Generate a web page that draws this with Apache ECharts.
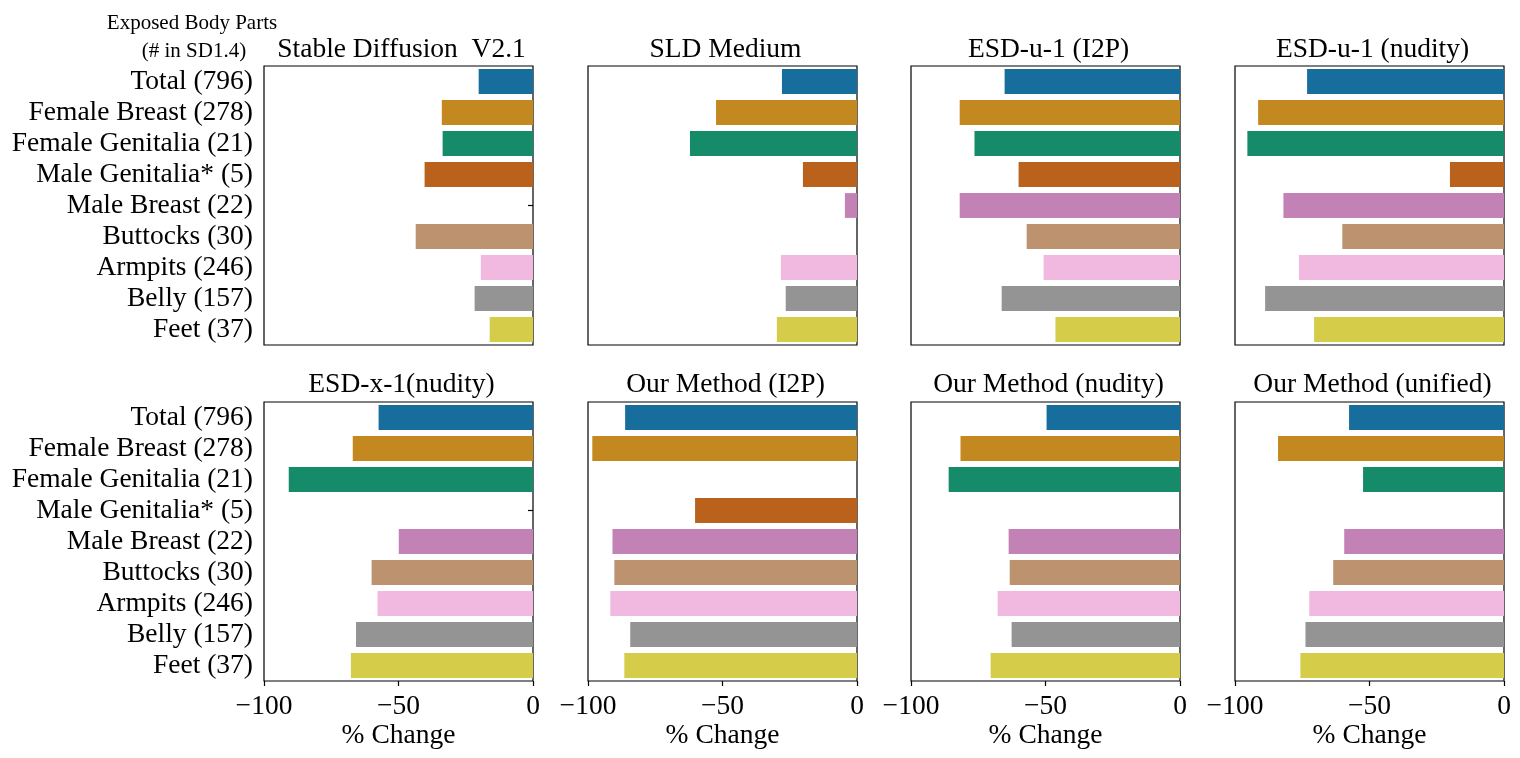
<!DOCTYPE html>
<html><head><meta charset="utf-8">
<script src="https://cdn.jsdelivr.net/npm/echarts@6/dist/echarts.min.js"></script>
<style>html,body{margin:0;padding:0;background:#fff}#c{width:1520px;height:758px}</style>
</head><body><div id="c"></div>
<script>
const categories = ['Total (796)', 'Female Breast (278)', 'Female Genitalia (21)', 'Male Genitalia* (5)', 'Male Breast (22)', 'Buttocks (30)', 'Armpits (246)', 'Belly (157)', 'Feet (37)'];
const panelTitles = ['Stable Diffusion  V2.1', 'SLD Medium', 'ESD-u-1 (I2P)', 'ESD-u-1 (nudity)', 'ESD-x-1(nudity)', 'Our Method (I2P)', 'Our Method (nudity)', 'Our Method (unified)'];
const sdV21        = [-20.2, -33.9, -33.6, -40.3, null, -43.6, -19.4, -21.7, -16.1];
const sldMedium    = [-27.9, -52.4, -62.1, -20.1, -4.5, null, -28.3, -26.5, -29.8];
const esdU1I2P     = [-65.2, -81.9, -76.4, -60.0, -81.9, -57.0, -50.7, -66.3, -46.3];
const esdU1Nudity  = [-73.2, -91.4, -95.4, -20.1, -82.0, -60.1, -76.2, -88.8, -70.6];
const esdX1Nudity  = [-57.4, -67.0, -90.8, null, -49.9, -60.0, -57.8, -65.8, -67.7];
const oursI2P      = [-86.2, -98.4, null, -60.2, -90.9, -90.2, -91.7, -84.3, -86.5];
const oursNudity   = [-49.6, -81.6, -86.0, null, -63.7, -63.3, -67.8, -62.6, -70.4];
const oursUnified  = [-57.6, -84.0, -52.4, null, -59.4, -63.5, -72.4, -73.8, -75.7];
const xTicks = [-100, -50, 0];
const colors = ['#176D9C', '#C38820', '#168B6A', '#BA611B', '#C282B5', '#BD926E', '#F1B8E0', '#949494', '#D5CD4A'];

const panelValues = [sdV21, sldMedium, esdU1I2P, esdU1Nudity, esdX1Nudity, oursI2P, oursNudity, oursUnified];
const FONT = '"Liberation Serif", "Times New Roman", serif';
const FS = 27.5;
const colLeft = [264, 588, 911, 1235];
const rowTop = [66, 402];
const W = 269, H = 279;

const grids = [], xAxes = [], yAxes = [], series = [], titles = [];
panelValues.forEach((vals, i) => {
  const r = Math.floor(i / 4), c = i % 4;
  grids.push({left: colLeft[c], top: rowTop[r], width: W, height: H, show: true,
    borderColor: '#000', borderWidth: 1.2, backgroundColor: '#fff'});
  xAxes.push({gridIndex: i, type: 'value', min: xTicks[0], max: xTicks[xTicks.length - 1], interval: 50,
    splitLine: {show: false}, axisLine: {show: false},
    axisTick: {show: r === 1, length: 5, lineStyle: {color: '#000', width: 1.2}},
    axisLabel: {show: r === 1, margin: 12, color: '#000', fontFamily: FONT, fontSize: FS,
      formatter: v => String(v).replace('-', '\u2212')},
    name: r === 1 ? '% Change' : '', nameLocation: 'middle', nameGap: 41,
    nameTextStyle: {color: '#000', fontFamily: FONT, fontSize: FS}});
  yAxes.push({gridIndex: i, type: 'category', data: categories, inverse: true,
    axisLine: {show: false},
    axisTick: {show: c === 0, interval: 0, alignWithLabel: true, length: 5, lineStyle: {color: '#000', width: 1.2}},
    axisLabel: {show: c === 0, interval: 0, margin: 11, color: '#000', fontFamily: FONT, fontSize: FS},
    splitLine: {show: false}});
  series.push({type: 'bar', xAxisIndex: i, yAxisIndex: i, barCategoryGap: '20%',
    data: vals.map((v, k) => ({value: v, itemStyle: {color: colors[k]}}))});
  titles.push({text: panelTitles[i], left: colLeft[c] + W / 2 - 2, top: rowTop[r] - 35 - r, textAlign: 'center',
    textStyle: {color: '#000', fontFamily: FONT, fontSize: FS, fontWeight: 'normal'}});
});
titles.push({text: 'Exposed Body Parts', left: 187, top: 8, textAlign: 'center',
  textStyle: {color: '#000', fontFamily: FONT, fontSize: 21, fontWeight: 'normal'}});
titles.push({text: '(# in SD1.4)', left: 189, top: 36, textAlign: 'center',
  textStyle: {color: '#000', fontFamily: FONT, fontSize: 21, fontWeight: 'normal'}});

const chart = echarts.init(document.getElementById('c'), null, {renderer: 'canvas'});
chart.setOption({animation: false, backgroundColor: '#fff', title: titles, grid: grids,
  xAxis: xAxes, yAxis: yAxes, series: series});
</script></body></html>
